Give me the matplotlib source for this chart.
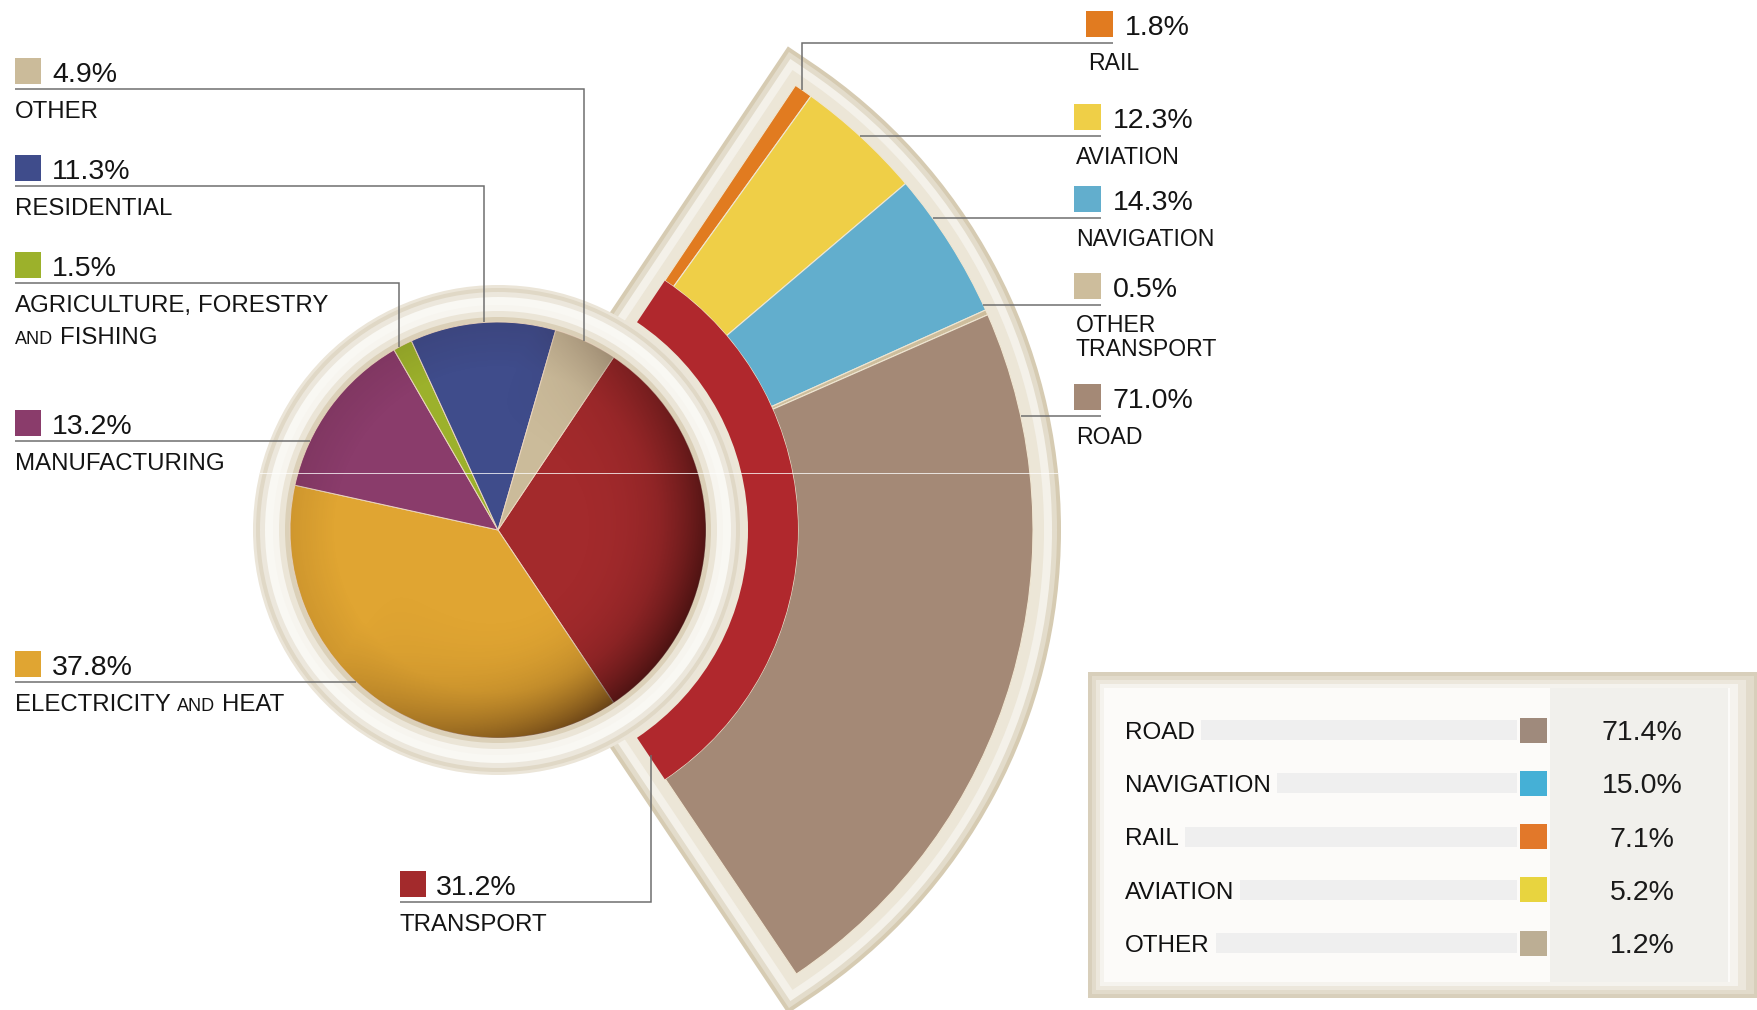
import numpy as np
import matplotlib
matplotlib.use('Agg')
import matplotlib.pyplot as plt
from matplotlib.patches import Wedge, Circle, Rectangle

plt.rcParams['font.family'] = ['Liberation Sans', 'DejaVu Sans']

# ---------------- data ----------------
sector_names = ['TRANSPORT', 'ELECTRICITY AND HEAT', 'MANUFACTURING',
                'AGRICULTURE, FORESTRY AND FISHING', 'RESIDENTIAL', 'OTHER']
sector_share = [31.2, 37.8, 13.2, 1.5, 11.3, 4.9]

transport_modes = ['RAIL', 'AVIATION', 'NAVIGATION', 'OTHER TRANSPORT', 'ROAD']
mode_share = [1.8, 12.3, 14.3, 0.5, 71.0]

table_modes = ['ROAD', 'NAVIGATION', 'RAIL', 'AVIATION', 'OTHER']
table_share = [71.4, 15.0, 7.1, 5.2, 1.2]

# ---------------- styles ----------------
sector_colors = ['#a32a2c', '#e0a532', '#8a3c6b', '#9cb12b', '#3f4c8b', '#cbbb9a']
mode_colors = ['#e17b20', '#efcf47', '#62aecd', '#cdbd9c', '#a48976']
band_color = '#b0282d'
table_colors = ['#9f8a7c', '#45b0d6', '#e2782a', '#e8d43f', '#bcae94']
TXT = '#141414'
LEAD = '#6c6c6c'

W, H, DPI = 1757, 1010, 100
PX = 72.0 / DPI          # points per pixel

fig = plt.figure(figsize=(W / DPI, H / DPI), dpi=DPI)
ax = fig.add_axes([0, 0, 1, 1])
renderer = fig.canvas.get_renderer()


def Y(y):
    return H - y


C = (498.0, Y(530.0))
R_PIE = 208.0
R_BAND_IN, R_BAND_OUT, R_FAN = 250.0, 300.0, 535.0

span = sector_share[0] / sum(sector_share) * 360.0
start = span / 2.0

# ---------- transport fan ----------
for half_px, col in [(28, '#d6cbb2'), (24, '#e3dccb'), (19, '#f4f1e9'), (11, '#ece6d7')]:
    ax.add_patch(Wedge(C, R_FAN, -start, start, width=R_FAN - R_BAND_IN,
                       facecolor=col, edgecolor=col, linewidth=2 * half_px * PX,
                       joinstyle='miter', zorder=1))

fr = np.array(mode_share) / 100.0 * span / 360.0
mw, _ = ax.pie(fr, normalize=False, startangle=start, counterclock=False,
               radius=R_FAN, center=C, colors=mode_colors,
               wedgeprops=dict(width=R_FAN - R_BAND_OUT, edgecolor='#efe6d2', linewidth=0.8))
for w in mw:
    w.set_zorder(2)

bw, _ = ax.pie([span / 360.0], normalize=False, startangle=start, counterclock=False,
               radius=R_BAND_OUT, center=C, colors=[band_color],
               wedgeprops=dict(width=R_BAND_OUT - R_BAND_IN, linewidth=0))
for w in bw:
    w.set_zorder(2)

# ---------- pie ring ----------
for r, col in [(245, '#ebe5d8'), (242, '#e0d8c6'), (238, '#ece7dc'), (233, '#f9f8f3'),
               (225, '#f7f5ef'), (219, '#ebe5d7'), (213, '#dbd0b8')]:
    ax.add_patch(Circle(C, r, facecolor=col, edgecolor='none', zorder=3))

# ---------- main pie ----------
pw, _ = ax.pie(sector_share, startangle=start, counterclock=False, radius=R_PIE,
               center=C, colors=sector_colors,
               wedgeprops=dict(edgecolor='#ecd6c0', linewidth=0.7))
for w in pw:
    w.set_zorder(4)

# shading on the pie (3-D look)
n = 500
g = np.linspace(-1, 1, n)
GX, GY = np.meshgrid(g, g)
rr = np.hypot(GX, GY)
dirf = np.clip(0.25 + 0.75 * (0.85 * GX - 0.5 * GY), 0, 1)
alpha = 0.58 * np.clip((rr - 0.35) / 0.65, 0, 1) ** 2.2 * dirf + 0.09 * np.clip((rr - 0.78) / 0.22, 0, 1)
img = np.zeros((n, n, 4))
img[..., 0], img[..., 1], img[..., 2] = 0.13, 0.03, 0.02
img[..., 3] = np.clip(alpha, 0, 0.72)
im = ax.imshow(img, extent=(C[0] - R_PIE, C[0] + R_PIE, C[1] - R_PIE, C[1] + R_PIE),
               origin='lower', zorder=4.5, interpolation='bilinear')
im.set_clip_path(Circle(C, R_PIE, transform=ax.transData))

# ---------- text helpers ----------
line_breaks = {'AGRICULTURE, FORESTRY AND FISHING': ['AGRICULTURE, FORESTRY', 'AND FISHING'],
               'OTHER TRANSPORT': ['OTHER', 'TRANSPORT']}


def baseline(cy, pt):
    return Y(cy + 0.5 * 0.716 * pt / PX)


def put_words(x, cy, line, pt, small_pt):
    b = baseline(cy, pt)
    for wd in line.split(' '):
        size = small_pt if wd == 'AND' else pt
        t = ax.text(x, b, wd, fontsize=size, ha='left', va='baseline', color=TXT, zorder=8)
        x += t.get_window_extent(renderer).width + 0.27 * pt / PX
    return x


def lead(xs, ys):
    ax.plot(xs, [Y(v) for v in ys], color=LEAD, lw=1.5 * PX, zorder=6,
            solid_capstyle='butt', solid_joinstyle='miter')


LBL_PT, PCT_PT, RLBL_PT, SMALL_PT = 17.3, 20.5, 16.6, 13.0


def pie_top_edge(x):
    dx = x - C[0]
    return H - (C[1] + np.sqrt(R_PIE ** 2 - dx ** 2))


def pie_left_edge(yimg):
    dy = Y(yimg) - C[1]
    return C[0] - np.sqrt(R_PIE ** 2 - dy ** 2)


def fan_right_edge(yimg):
    dy = Y(yimg) - C[1]
    return C[0] + np.sqrt(R_FAN ** 2 - dy ** 2)


# ---------- left labels ----------
# sector index -> (leader y, vertical x or None)
left_layout = {5: (89, 584), 4: (186, 484), 3: (283, 399), 2: (441, None), 1: (682, None)}
for i, (ly, vx) in left_layout.items():
    sx = 15
    ax.add_patch(Rectangle((sx, Y(ly - 5)), 26, 26, facecolor=sector_colors[i],
                           edgecolor='none', zorder=7))
    ax.text(sx + 37, baseline(ly - 17.5, PCT_PT), f'{sector_share[i]:.1f}%', fontsize=PCT_PT,
            ha='left', va='baseline', color=TXT, zorder=8)
    lines = line_breaks.get(sector_names[i], [sector_names[i]])
    for k, ln in enumerate(lines):
        put_words(sx, ly + 20 + 32 * k, ln, LBL_PT, SMALL_PT)
    if vx is not None:
        lead([sx, vx, vx], [ly, ly, pie_top_edge(vx)])
    else:
        lead([sx, pie_left_edge(ly)], [ly, ly])

# transport label (below)
tly, tvx, tsx = 902, 651, 400
ax.add_patch(Rectangle((tsx, Y(tly - 5)), 26, 26, facecolor=sector_colors[0],
                       edgecolor='none', zorder=7))
ax.text(tsx + 36, baseline(tly - 17.5, PCT_PT), f'{sector_share[0]:.1f}%', fontsize=PCT_PT,
        ha='left', va='baseline', color=TXT, zorder=8)
put_words(tsx, tly + 20, sector_names[0], LBL_PT, SMALL_PT)
lead([tsx, tvx, tvx], [tly, tly, 755])

# ---------- right labels ----------
right_lines = [42.5, 136, 218, 304.5, 416]
for i, ly in enumerate(right_lines):
    shift = 12 if i == 0 else 0
    sx = 1074 + shift
    ax.add_patch(Rectangle((sx, Y(ly - 6)), 27, 26, facecolor=mode_colors[i],
                           edgecolor='none', zorder=7))
    ax.text(sx + 39, baseline(ly - 18, PCT_PT), f'{mode_share[i]:.1f}%', fontsize=PCT_PT,
            ha='left', va='baseline', color=TXT, zorder=8)
    lines = line_breaks.get(transport_modes[i], [transport_modes[i]])
    for k, ln in enumerate(lines):
        put_words(sx + 2, ly + 19.5 + 24 * k, ln, RLBL_PT, SMALL_PT)
    if i == 0:
        vx = 802
        lead([vx, vx, sx + 27], [H - (C[1] + np.sqrt(R_FAN ** 2 - (vx - C[0]) ** 2)), ly, ly])
    else:
        lead([fan_right_edge(ly), sx + 27], [ly, ly])

# ---------- table ----------
TX0, TY0, TY1 = 1088, 672, 998
for inset, col in [(0, '#d8cfbb'), (4, '#e2dbcb'), (8, '#ece7dc'), (12, '#f5f3ee'), (16, '#fcfbf9')]:
    right = 1762 - 2 * inset
    ax.add_patch(Rectangle((TX0 + inset, Y(TY1 - inset)), right - (TX0 + inset),
                           (TY1 - TY0) - 2 * inset, facecolor=col, edgecolor='none', zorder=1))
ax.add_patch(Rectangle((1550, Y(982)), 178, 294, facecolor='#f1f0ec', edgecolor='none', zorder=1.5))

TBL_PT, TVAL_PT = 17.5, 20.5
for i, name in enumerate(table_modes):
    cy = 730 + i * 53.3
    t = ax.text(1125, baseline(cy, TBL_PT), name, fontsize=TBL_PT, ha='left', va='baseline',
                color='#111111', zorder=8)
    x_end = 1125 + t.get_window_extent(renderer).width + 6
    ax.add_patch(Rectangle((x_end, Y(cy + 10)), 1517 - x_end, 20, facecolor='#efefef',
                           edgecolor='none', zorder=1.8))
    ax.add_patch(Rectangle((1520, Y(cy + 12.5)), 27, 25, facecolor=table_colors[i],
                           edgecolor='none', zorder=3))
    ax.text(1642, baseline(cy, TVAL_PT), f'{table_share[i]:.1f}%', fontsize=TVAL_PT,
            ha='center', va='baseline', color='#1a1a1a', zorder=8)

# faint horizontal scan artefact of the original
ax.plot([260, 1057], [Y(473), Y(473)], color='white', alpha=0.75, lw=1.0 * PX, zorder=7)

ax.set_xlim(0, W)
ax.set_ylim(0, H)
ax.set_aspect('auto')
ax.axis('off')
fig.savefig('out.png', dpi=DPI, facecolor='white')
